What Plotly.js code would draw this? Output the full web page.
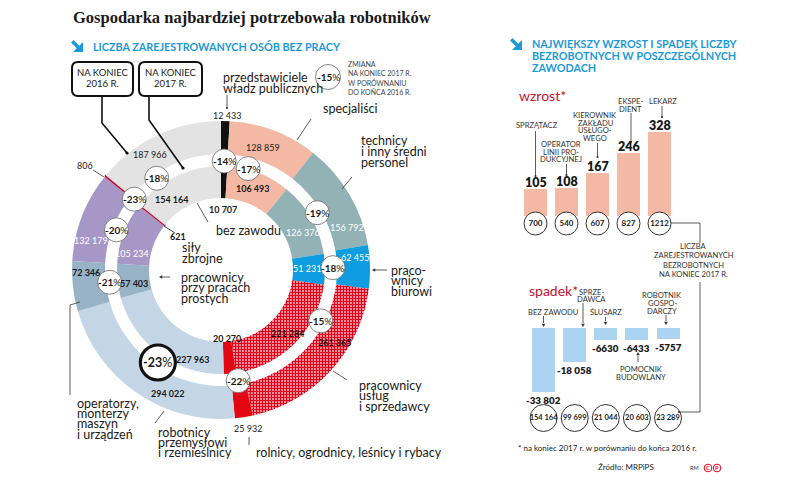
<!DOCTYPE html>
<html><head><meta charset="utf-8">
<script src="https://cdn.plot.ly/plotly-3.0.1.min.js"></script>
<style>html,body{margin:0;padding:0;background:#fff}#chart{width:805px;height:484px}</style>
</head><body><div id="chart"></div>
<script>
// ---------------- DATA ----------------
const categories = ['przedstawiciele władz publicznych','specjaliści','technicy i inny średni personel','pracownicy biurowi','pracownicy usług i sprzedawcy','rolnicy, ogrodnicy, leśnicy i rybacy','robotnicy przemysłowi i rzemieślnicy','operatorzy, monterzy maszyn i urządzeń','pracownicy przy pracach prostych','siły zbrojne','bez zawodu'];
const values2016 = [12433,128859,156792,62455,261365,25932,294022,72346,132179,806,187966];
const values2017 = [10707,106493,126376,51231,221284,20270,227963,57403,105234,621,154164];
const changePct  = [-14,-17,-19,-18,-15,-22,-23,-21,-20,-23,-18];

const riseJobs   = ['SPRZĄTACZ','OPERATOR LINII PRODUKCYJNEJ','KIEROWNIK ZAKŁADU USŁUGOWEGO','EKSPEDIENT','LEKARZ'];
const riseValues = [105,108,167,246,328];
const riseTotals = [700,540,607,827,1212];
const fallJobs   = ['BEZ ZAWODU','SPRZEDAWCA','ŚLUSARZ','POMOCNIK BUDOWLANY','ROBOTNIK GOSPODARCZY'];
const fallValues = [-33802,-18058,-6630,-6433,-5757];
const fallTotals = [154164,99699,21044,20603,23289];

// ---------------- LAYOUT CONSTANTS ----------------
const W=805, H=484;
const FONT = "Lato, 'Noto Sans', sans-serif";
const DARK = '#1a1a1a';
const BLUE = '#1b9ad8';
const RED  = '#c4122f';
const CX=221, CY=270, R_OUT=149, R_OUT_IN=116, R_IN=104, R_IN_IN=72;
const sliceColors = ['#111111','#f3b9a4','#93b2b6','#0d9de0','#e2001a','#e30613','#c4d6e6','#97b3c5','#a797c7','#e2001a','#e3e3e3'];
const patternIdx = 4, thinIdx = 9, bigIdx = 6;
const pctAngleOverride = {1:15, 4:117, 8:291, 10:325};
const pctRadiusOverride = {1:105, 0:109};
const pctRadius = 112;
const outerLabelPos = [[227,115],[263,147],[347,227],[355,257],[335,342],[248,428],[168,393],[86,272],[91,240],[85,165],[150,154]];
const innerLabelPos = [[223,209],[253,188],[303,232],[307,268],[288,333],[227,338],[193,359],[134,283],[132,253],[178,236],[172,199]];
const whiteLabel = [2,3,8];
const boldOuter = [4,6,7];

function fmt(v){ const a=Math.abs(v), s=String(a); const g = a>=10000 ? s.replace(/\B(?=(\d{3})+(?!\d))/g,' ') : s; return (v<0?'-':'')+g; }

const ann=[], shapes=[];
function txt(x,y,text,o={}){
  ann.push({xref:o.xref||'x', yref:o.yref||'y', x, y, text, showarrow:false, xanchor:o.anchor||'left', yanchor:'middle',
    yshift:o.yshift||0, borderpad:0,
    font:{family:o.family||FONT, size:o.size||12.5, color:o.color||DARK, weight:o.weight||400}});
}
function lines(x,y0,arr,lh,o){ arr.forEach((t,i)=>txt(x,y0+i*lh,t,o)); }
function seg(pts,o={}){
  const d = pts.map((p,i)=>(i?'L':'M')+p[0]+','+p[1]).join(' ');
  shapes.push({type:'path', xref:'x', yref:'y', path:d, line:{color:o.color||'#333', width:o.width||0.8}, layer:'above'});
}
function dot(x,y,r=1.3,c='#333'){ shapes.push({type:'circle', xref:'x', yref:'y', x0:x-r,x1:x+r,y0:y-r,y1:y+r, fillcolor:c, line:{width:0}, layer:'above'}); }
function head(x,y,dir){
  const s=3.2, h=1.8; let d;
  if(dir==='left') d=`M${x},${y} L${x+s},${y-h} L${x+s},${y+h} Z`;
  if(dir==='down') d=`M${x},${y} L${x-h},${y-s} L${x+h},${y-s} Z`;
  if(dir==='up')   d=`M${x},${y} L${x-h},${y+s} L${x+h},${y+s} Z`;
  shapes.push({type:'path', xref:'x', yref:'y', path:d, fillcolor:'#333', line:{width:0}, layer:'above'});
}
function circ(x,y,r,o={}){ shapes.push({type:'circle', xref:'x', yref:'y', x0:x-r,x1:x+r,y0:y-r,y1:y+r, fillcolor:o.fill||'#fff', line:{color:o.color||'#555', width:o.width||0.8}, layer:'above'}); }
function roundBox(x0,y0,x1,y1,r){
  const d=`M${x0+r},${y0} L${x1-r},${y0} Q${x1},${y0} ${x1},${y0+r} L${x1},${y1-r} Q${x1},${y1} ${x1-r},${y1} L${x0+r},${y1} Q${x0},${y1} ${x0},${y1-r} L${x0},${y0+r} Q${x0},${y0} ${x0+r},${y0} Z`;
  shapes.push({type:'path', xref:'x', yref:'y', path:d, fillcolor:'#fff', line:{color:'#111', width:2}, layer:'above'});
}
function arrowIcon(ox,oy){
  const P=[[0,2.5],[2.5,0],[8.25,5.75],[12,2],[12,12],[2,12],[5.75,8.25]];
  const d=P.map((p,i)=>(i?'L':'M')+(ox+p[0])+','+(oy+p[1])).join(' ')+' Z';
  shapes.push({type:'path', xref:'x', yref:'y', path:d, fillcolor:BLUE, line:{width:0}, layer:'above'});
}

// ---------------- TRACES ----------------
function pieDomain(r){ return {x:[(CX-r)/W,(CX+r)/W], y:[(H-CY-r)/H,(H-CY+r)/H]}; }
const lineW = categories.map((_,i)=> i===thinIdx?1.6:0);
const lineC = categories.map((_,i)=> i===thinIdx?'#e2001a':'rgba(0,0,0,0)');
const patShape = categories.map((_,i)=> i===patternIdx?'+':'');
function pieTrace(vals, r, rin){
  return {type:'pie', labels:categories, values:vals, sort:false, direction:'clockwise', rotation:0,
    textinfo:'none', hoverinfo:'label+value', showlegend:false, domain:pieDomain(r), hole:rin/r,
    marker:{colors:sliceColors, line:{width:lineW, color:lineC},
      pattern:{shape:patShape, bgcolor:'#ffffff', size:3, solidity:0.75}}};
}
const traces = [
  {type:'scatter', x:[], y:[], xaxis:'x', yaxis:'y', hoverinfo:'skip', showlegend:false},
  pieTrace(values2016, R_OUT, R_OUT_IN),
  pieTrace(values2017, R_IN, R_IN_IN)
];

// bar panels
const RISE = {x0:504.5, col:31, top:100, bottom:240, base:216, ppu:0.2556, barW:23, circleDy:7.5, circleD:23};
const FALL = {x0:512.5, col:31.1, top:300, bottom:440, base:328, ppu:0.00188, barW:23, circleDy:90, circleD:27};
function panelAxes(P){
  return [{domain:[P.x0/W,(P.x0+6*P.col)/W], range:[-1,5], visible:false, fixedrange:true},
          {domain:[(H-P.bottom)/H,(H-P.top)/H], range:[-(P.bottom-P.base)/P.ppu,(P.base-P.top)/P.ppu], visible:false, fixedrange:true}];
}
const [rx, ry] = panelAxes(RISE), [fx, fy] = panelAxes(FALL);
rx.anchor='y2'; ry.anchor='x2'; fx.anchor='y3'; fy.anchor='x3';

traces.push({type:'bar', x:riseJobs, y:riseValues, xaxis:'x2', yaxis:'y2', width:RISE.barW/RISE.col,
  marker:{color:'#f3b9a4'}, hoverinfo:'x+y', showlegend:false});
traces.push({type:'scatter', mode:'markers+text', x:riseJobs, y:riseJobs.map(()=>-RISE.circleDy/RISE.ppu), xaxis:'x2', yaxis:'y2',
  marker:{size:RISE.circleD, color:'#fff', line:{color:'#333', width:1}}, text:riseTotals.map(fmt), textposition:'middle center',
  textfont:{family:FONT, size:8, color:DARK, weight:700}, cliponaxis:false, hoverinfo:'skip', showlegend:false});
traces.push({type:'bar', x:fallJobs, y:fallValues, xaxis:'x3', yaxis:'y3', width:FALL.barW/FALL.col,
  marker:{color:'#aad4f2'}, hoverinfo:'x+y', showlegend:false});
traces.push({type:'scatter', mode:'markers+text', x:fallJobs, y:fallJobs.map(()=>-FALL.circleDy/FALL.ppu), xaxis:'x3', yaxis:'y3',
  marker:{size:FALL.circleD, color:'#fff', line:{color:'#333', width:1}}, text:fallTotals.map(fmt), textposition:'middle center',
  textfont:{family:FONT, size:7.5, color:DARK, weight:700}, cliponaxis:false, hoverinfo:'skip', showlegend:false});

riseJobs.forEach((j,i)=>txt(j, riseValues[i], fmt(riseValues[i]), {xref:'x2', yref:'y2', anchor:'center', yshift:7, size:12.5, weight:800}));
fallJobs.forEach((j,i)=>txt(j, fallValues[i], fmt(fallValues[i]), {xref:'x3', yref:'y3', anchor:'center', yshift:-8, size:9.8, weight:800}));

// ---------------- DONUT DECORATIONS ----------------
function cum(vals){ const t=vals.reduce((a,b)=>a+b,0); let c=0; return vals.map(v=>{const a0=c/t*360; c+=v; return [a0,c/t*360];}); }
const ang16 = cum(values2016);
changePct.forEach((p,i)=>{
  const a = (pctAngleOverride[i]!==undefined ? pctAngleOverride[i] : (ang16[i][0]+ang16[i][1])/2) * Math.PI/180;
  const r = pctRadiusOverride[i]!==undefined ? pctRadiusOverride[i] : pctRadius;
  const x = CX + r*Math.sin(a), y = CY - r*Math.cos(a);
  if(i===bigIdx){ circ(x,y,17.5,{color:'#111', width:3.2}); txt(x,y,`<b>${p}</b>%`,{anchor:'center', size:12.5}); }
  else { circ(x,y,12,{color:'#666', width:0.8}); txt(x,y,`<b>${p}</b>%`,{anchor:'center', size:10}); }
});
values2016.forEach((v,i)=>txt(outerLabelPos[i][0], outerLabelPos[i][1], fmt(v), {anchor:'center', size:9,
  color: whiteLabel.includes(i)?'#fff':DARK, weight: boldOuter.includes(i)?700:400}));
values2017.forEach((v,i)=>txt(innerLabelPos[i][0], innerLabelPos[i][1], fmt(v), {anchor:'center', size:9,
  color: whiteLabel.includes(i)?'#fff':DARK, weight: whiteLabel.includes(i)?400:700}));

// category labels
lines(222,77,['przedstawiciele','władz publicznych'],11);
txt(322,108,'specjaliści');
lines(360,140,['technicy','i inny średni','personel'],11);
lines(390,270,['praco-','wnicy','biurowi'],10.5);
lines(358,385,['pracownicy','usług','i sprzedawcy'],10.5);
txt(255,452,'rolnicy, ogrodnicy, leśnicy i rybacy');
lines(157,432,['robotnicy','przemysłowi','i rzemieślnicy'],10.3);
lines(76,403,['operatorzy,','monterzy','maszyn','i urządzeń'],10.4);
lines(180,277,['pracownicy','przy pracach','prostych'],10.7);
lines(181,247.5,['siły','zbrojne'],10.5);
txt(215,230,'bez zawodu');

// leader lines donut
seg([[227,95],[227,108]]); dot(227,108,1.1);
seg([[311,119],[297,140]]);
seg([[352,177],[342,189]]);
seg([[387,270],[375,270]]); head(372,270,'left');
seg([[347,380],[333,371]]);
seg([[249,437],[249,445]]);
seg([[155,423],[164,411]]);
seg([[70,395],[70,305],[80,302]]);
seg([[170,277],[162,277]]); head(159,277,'left');
seg([[208,222],[197,203]]);
seg([[93,170],[104,177]]);
seg([[164,226],[175,233]],{color:'#111'});
seg([[102,96],[102,123],[127,153]],{color:'#111', width:1.6}); dot(127,153,1.6,'#111');
seg([[149,96],[149,120],[183,168]],{color:'#111', width:1.6}); dot(183,168,1.6,'#111');

// boxes
roundBox(72,62,133,96,6); roundBox(139,62,202,96,6);
lines(102.5,72,['NA KONIEC','2016 R.'],11,{anchor:'center', size:9.5});
lines(170.5,72,['NA KONIEC','2017 R.'],11,{anchor:'center', size:9.5});

// legend circle
circ(328,77,12.5,{color:'#666', width:0.8}); txt(328,77,'<b>-15</b>%',{anchor:'center', size:10});
lines(347,63.5,['ZMIANA','NA KONIEC 2017 R.','W PORÓWNANIU','DO KOŃCA 2016 R.'],9.4,{size:7, color:'#444'});

// titles
txt(72,17,'Gospodarka najbardziej potrzebowała robotników',{family:"'Liberation Serif', 'DejaVu Serif', serif", size:16.5, weight:700});
arrowIcon(71,40);
txt(92,46,'LICZBA ZAREJESTROWANYCH OSÓB BEZ PRACY',{size:10.8, weight:700, color:BLUE});
arrowIcon(510,38);
lines(531,43,['NAJWIĘKSZY WZROST I SPADEK LICZBY','BEZROBOTNYCH W POSZCZEGÓLNYCH','ZAWODACH'],12.4,{size:10.8, weight:700, color:BLUE});

// right panel labels
txt(518,95,'wzrost*',{size:14, color:RED});
txt(528,290,'spadek*',{size:14, color:RED});
const S = {anchor:'center', size:7.6, color:'#333'};
lines(536.5,125,['SPRZĄTACZ'],8,S);
lines(561,144,['OPERATOR','LINII PRO-','DUKCYJNEJ'],7.6,S);
lines(595,115,['KIEROWNIK','ZAKŁADU','USŁUGO-','WEGO'],7.7,S);
lines(630,101,['EKSPE-','DIENT'],8.4,S);
lines(663,101,['LEKARZ'],8,S);
lines(693.5,246,['LICZBA','ZAREJESTROWANYCH','BEZROBOTNYCH','NA KONIEC 2017 R.'],9.3,S);
lines(553,312,['BEZ ZAWODU'],8,S);
lines(591.5,291.5,['SPRZE-','DAWCA'],7.6,S);
lines(606,312,['ŚLUSARZ'],8,S);
lines(662,295,['ROBOTNIK','GOSPO-','DARCZY'],7.8,S);
lines(641,369,['POMOCNIK','BUDOWLANY'],8.2,S);

seg([[535.5,131],[535.5,176]]); dot(535.5,176,1.1);
seg([[566.5,164],[566.5,175]]); dot(566.5,175,1.1);
seg([[597.5,143],[597.5,157]]); dot(597.5,157,1.1);
seg([[631,113],[631,142]]); dot(631,142,1.1);
seg([[662,106],[662,117]]); dot(662,117,1.1);
seg([[671,223],[700,223],[700,243]]);
seg([[700,282],[700,412],[679,412]]); dot(679,412,1.1);
seg([[543.5,316],[543.5,323]]); head(543.5,327,'down');
seg([[583,303],[583,323]]); head(583,327,'down');
seg([[605.5,317],[605.5,321]]); head(605.5,325,'down');
seg([[666,315],[666,321]]); head(666,325,'down');
seg([[638,362],[638,356]]); head(638,352,'up');

txt(517,448,'* na koniec 2017 r. w porównaniu do końca 2016 r.',{size:8, color:'#222'});
txt(626,467,'Źródło: MRPiPS',{anchor:'center', size:8, color:'#222'});
txt(694,468,'RM',{anchor:'center', size:5.5, color:'#333'});
circ(708,468,3.8,{color:'#e2001a', width:1}); txt(708,468.3,'C',{anchor:'center', size:5.5, color:'#e2001a', weight:700});
circ(717,468,3.8,{color:'#e2001a', width:1}); txt(717,468.3,'P',{anchor:'center', size:5.5, color:'#e2001a', weight:700});

const layout = {
  width:W, height:H, margin:{l:0,r:0,t:0,b:0}, paper_bgcolor:'#fff', plot_bgcolor:'rgba(0,0,0,0)',
  showlegend:false, hovermode:false, bargap:0,
  xaxis:{domain:[0,1], range:[0,W], visible:false, fixedrange:true},
  yaxis:{domain:[0,1], range:[H,0], visible:false, fixedrange:true},
  xaxis2:rx, yaxis2:ry, xaxis3:fx, yaxis3:fy,
  shapes, annotations:ann
};
Plotly.newPlot('chart', traces, layout, {displayModeBar:false, staticPlot:true});
</script></body></html>
